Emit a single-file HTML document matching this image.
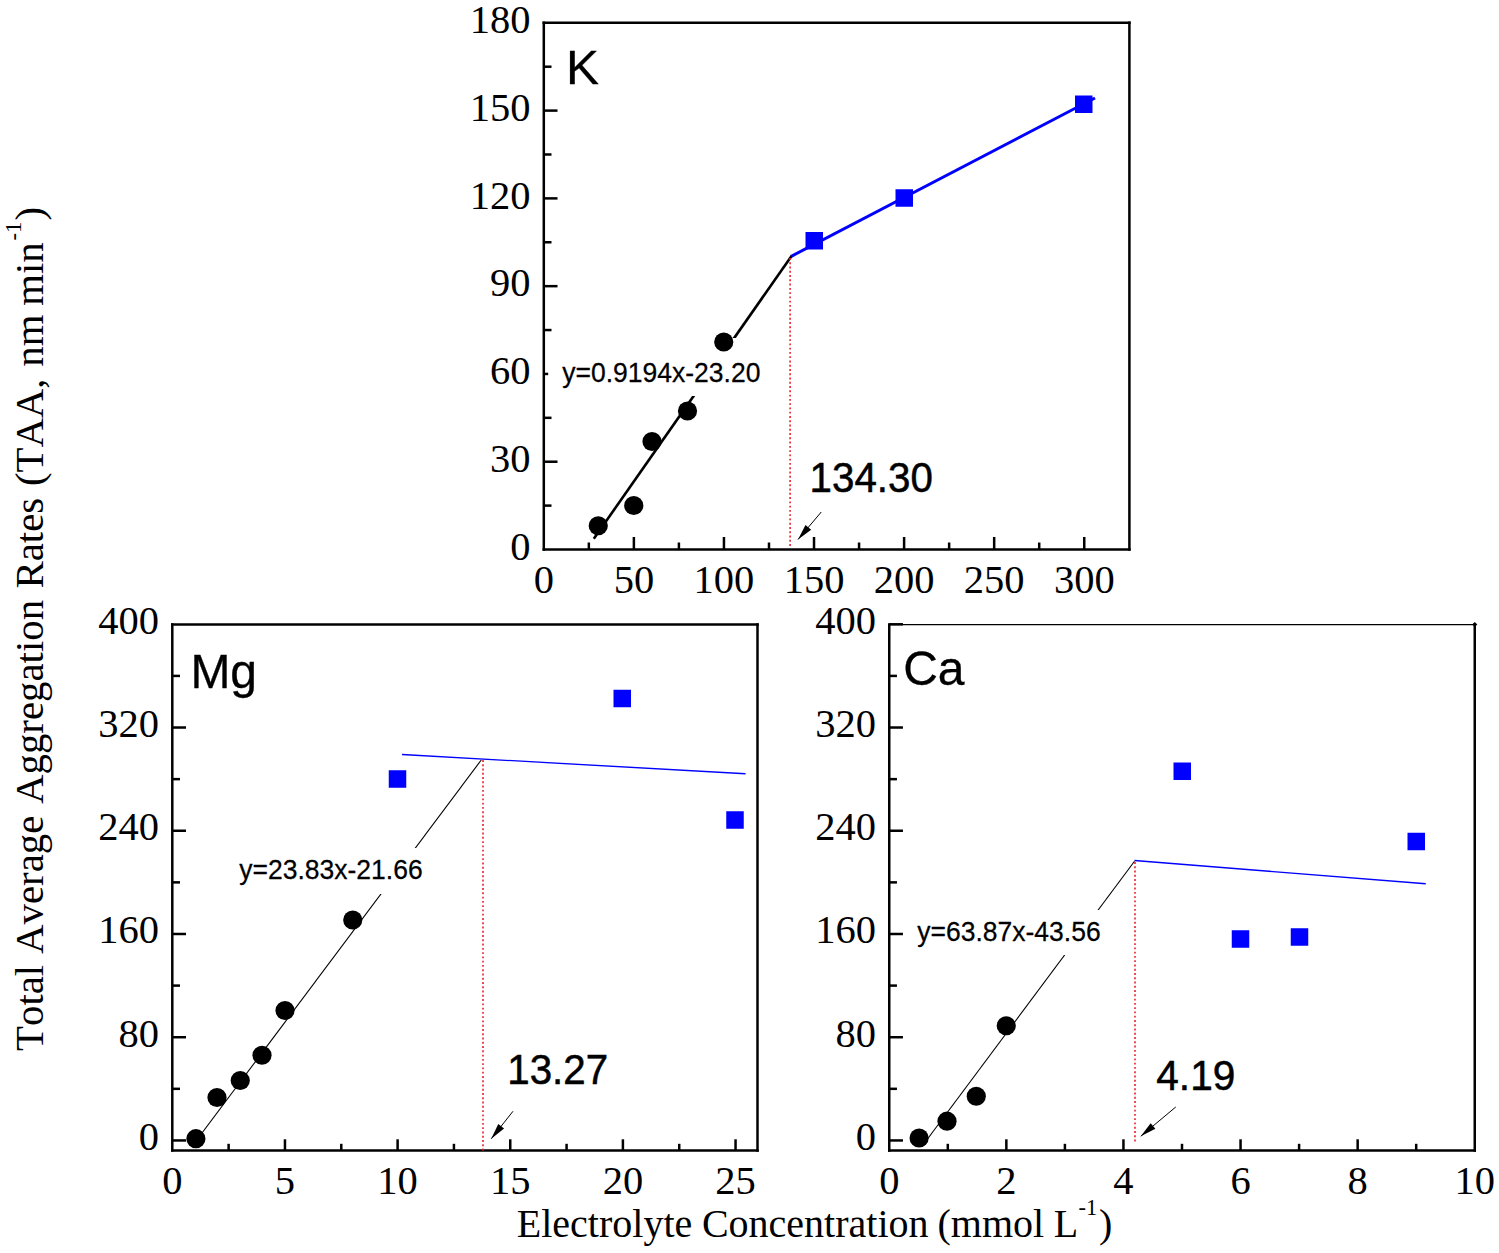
<!DOCTYPE html>
<html><head><meta charset="utf-8"><title>Chart</title>
<style>
html,body{margin:0;padding:0;background:#fff;}
body{width:1499px;height:1253px;overflow:hidden;font-family:"Liberation Sans",sans-serif;}
svg{display:block;}
svg text{font-kerning:none;font-variant-ligatures:none;}
</style></head><body>
<svg width="1499" height="1253" viewBox="0 0 1499 1253">
<rect width="1499" height="1253" fill="#fff"/>
<line x1="543.80" y1="21.55" x2="543.80" y2="550.75" stroke="#000" stroke-width="2.5" />
<line x1="1129.40" y1="21.55" x2="1129.40" y2="550.75" stroke="#000" stroke-width="2.5" />
<line x1="542.55" y1="549.50" x2="1130.65" y2="549.50" stroke="#000" stroke-width="2.5" />
<line x1="542.55" y1="22.80" x2="1130.65" y2="22.80" stroke="#000" stroke-width="2.5" />
<text x="543.80" y="592.90" font-size="40.5" font-family='"Liberation Serif", serif' text-anchor="middle" >0</text>
<line x1="633.88" y1="549.50" x2="633.88" y2="537.00" stroke="#000" stroke-width="2.5" />
<text x="633.88" y="592.90" font-size="40.5" font-family='"Liberation Serif", serif' text-anchor="middle" >50</text>
<line x1="723.95" y1="549.50" x2="723.95" y2="537.00" stroke="#000" stroke-width="2.5" />
<text x="723.95" y="592.90" font-size="40.5" font-family='"Liberation Serif", serif' text-anchor="middle" >100</text>
<line x1="814.02" y1="549.50" x2="814.02" y2="537.00" stroke="#000" stroke-width="2.5" />
<text x="814.02" y="592.90" font-size="40.5" font-family='"Liberation Serif", serif' text-anchor="middle" >150</text>
<line x1="904.10" y1="549.50" x2="904.10" y2="537.00" stroke="#000" stroke-width="2.5" />
<text x="904.10" y="592.90" font-size="40.5" font-family='"Liberation Serif", serif' text-anchor="middle" >200</text>
<line x1="994.17" y1="549.50" x2="994.17" y2="537.00" stroke="#000" stroke-width="2.5" />
<text x="994.17" y="592.90" font-size="40.5" font-family='"Liberation Serif", serif' text-anchor="middle" >250</text>
<line x1="1084.25" y1="549.50" x2="1084.25" y2="537.00" stroke="#000" stroke-width="2.5" />
<text x="1084.25" y="592.90" font-size="40.5" font-family='"Liberation Serif", serif' text-anchor="middle" >300</text>
<line x1="588.84" y1="549.50" x2="588.84" y2="542.50" stroke="#000" stroke-width="2.5" />
<line x1="678.91" y1="549.50" x2="678.91" y2="542.50" stroke="#000" stroke-width="2.5" />
<line x1="768.99" y1="549.50" x2="768.99" y2="542.50" stroke="#000" stroke-width="2.5" />
<line x1="859.06" y1="549.50" x2="859.06" y2="542.50" stroke="#000" stroke-width="2.5" />
<line x1="949.14" y1="549.50" x2="949.14" y2="542.50" stroke="#000" stroke-width="2.5" />
<line x1="1039.21" y1="549.50" x2="1039.21" y2="542.50" stroke="#000" stroke-width="2.5" />
<text x="530.50" y="559.70" font-size="40.5" font-family='"Liberation Serif", serif' text-anchor="end" >0</text>
<line x1="543.80" y1="461.72" x2="557.50" y2="461.72" stroke="#000" stroke-width="2.5" />
<text x="530.50" y="471.92" font-size="40.5" font-family='"Liberation Serif", serif' text-anchor="end" >30</text>
<line x1="543.80" y1="373.94" x2="557.50" y2="373.94" stroke="#000" stroke-width="2.5" />
<text x="530.50" y="384.14" font-size="40.5" font-family='"Liberation Serif", serif' text-anchor="end" >60</text>
<line x1="543.80" y1="286.16" x2="557.50" y2="286.16" stroke="#000" stroke-width="2.5" />
<text x="530.50" y="296.36" font-size="40.5" font-family='"Liberation Serif", serif' text-anchor="end" >90</text>
<line x1="543.80" y1="198.38" x2="557.50" y2="198.38" stroke="#000" stroke-width="2.5" />
<text x="530.50" y="208.58" font-size="40.5" font-family='"Liberation Serif", serif' text-anchor="end" >120</text>
<line x1="543.80" y1="110.60" x2="557.50" y2="110.60" stroke="#000" stroke-width="2.5" />
<text x="530.50" y="120.80" font-size="40.5" font-family='"Liberation Serif", serif' text-anchor="end" >150</text>
<text x="530.50" y="33.02" font-size="40.5" font-family='"Liberation Serif", serif' text-anchor="end" >180</text>
<line x1="543.80" y1="505.61" x2="551.50" y2="505.61" stroke="#000" stroke-width="2.5" />
<line x1="543.80" y1="417.83" x2="551.50" y2="417.83" stroke="#000" stroke-width="2.5" />
<line x1="543.80" y1="330.05" x2="551.50" y2="330.05" stroke="#000" stroke-width="2.5" />
<line x1="543.80" y1="242.27" x2="551.50" y2="242.27" stroke="#000" stroke-width="2.5" />
<line x1="543.80" y1="154.49" x2="551.50" y2="154.49" stroke="#000" stroke-width="2.5" />
<line x1="543.80" y1="66.71" x2="551.50" y2="66.71" stroke="#000" stroke-width="2.5" />
<line x1="593.80" y1="538.75" x2="791.90" y2="255.50" stroke="#000" stroke-width="2.6" />
<line x1="791.20" y1="256.30" x2="1095.00" y2="98.00" stroke="#0000ff" stroke-width="3.0" />
<rect x="548.20" y="338.00" width="221.80" height="58.00" fill="#fff"/>
<line x1="790.10" y1="258.00" x2="790.10" y2="548.00" stroke="#e8202a" stroke-width="1.6" stroke-dasharray="1.9 2.37"/>
<circle cx="598.25" cy="525.75" r="9.6" fill="#000"/>
<circle cx="633.75" cy="505.50" r="9.6" fill="#000"/>
<circle cx="652.00" cy="441.50" r="9.6" fill="#000"/>
<circle cx="687.50" cy="411.00" r="9.6" fill="#000"/>
<circle cx="723.75" cy="342.00" r="9.6" fill="#000"/>
<rect x="805.50" y="232.00" width="17.5" height="17.5" fill="#0000ff"/>
<rect x="895.50" y="189.25" width="17.5" height="17.5" fill="#0000ff"/>
<rect x="1075.00" y="95.50" width="17.5" height="17.5" fill="#0000ff"/>
<text transform="translate(562.30,381.60) scale(1,1.05)" font-size="26.5" font-family='"Liberation Sans", sans-serif' stroke="#000" stroke-width="0.25" stroke-linejoin="round">y=0.9194x-23.20</text>
<text transform="translate(809.60,492.20) scale(1,1.05)" font-size="40.3" font-family='"Liberation Sans", sans-serif' stroke="#000" stroke-width="0.5" stroke-linejoin="round">134.30</text>
<line x1="821.25" y1="512.00" x2="798.00" y2="539.50" stroke="#000" stroke-width="1" />
<polygon points="798.00,539.50 805.50,524.89 811.16,529.67" fill="#000"/>
<text transform="translate(566.00,84.40) scale(1,0.985)" font-size="49.5" font-family='"Liberation Sans", sans-serif' stroke="#000" stroke-width="0.3" stroke-linejoin="round">K</text>
<line x1="172.30" y1="623.15" x2="172.30" y2="1151.85" stroke="#000" stroke-width="2.5" />
<line x1="757.50" y1="623.15" x2="757.50" y2="1151.85" stroke="#000" stroke-width="2.5" />
<line x1="171.05" y1="1150.60" x2="758.75" y2="1150.60" stroke="#000" stroke-width="2.5" />
<line x1="171.05" y1="624.40" x2="758.75" y2="624.40" stroke="#000" stroke-width="2.5" />
<text x="172.30" y="1194.00" font-size="40.5" font-family='"Liberation Serif", serif' text-anchor="middle" >0</text>
<line x1="284.95" y1="1150.60" x2="284.95" y2="1139.30" stroke="#000" stroke-width="2.5" />
<text x="284.95" y="1194.00" font-size="40.5" font-family='"Liberation Serif", serif' text-anchor="middle" >5</text>
<line x1="397.60" y1="1150.60" x2="397.60" y2="1139.30" stroke="#000" stroke-width="2.5" />
<text x="397.60" y="1194.00" font-size="40.5" font-family='"Liberation Serif", serif' text-anchor="middle" >10</text>
<line x1="510.25" y1="1150.60" x2="510.25" y2="1139.30" stroke="#000" stroke-width="2.5" />
<text x="510.25" y="1194.00" font-size="40.5" font-family='"Liberation Serif", serif' text-anchor="middle" >15</text>
<line x1="622.90" y1="1150.60" x2="622.90" y2="1139.30" stroke="#000" stroke-width="2.5" />
<text x="622.90" y="1194.00" font-size="40.5" font-family='"Liberation Serif", serif' text-anchor="middle" >20</text>
<line x1="735.55" y1="1150.60" x2="735.55" y2="1139.30" stroke="#000" stroke-width="2.5" />
<text x="735.55" y="1194.00" font-size="40.5" font-family='"Liberation Serif", serif' text-anchor="middle" >25</text>
<line x1="228.62" y1="1150.60" x2="228.62" y2="1143.80" stroke="#000" stroke-width="2.5" />
<line x1="341.28" y1="1150.60" x2="341.28" y2="1143.80" stroke="#000" stroke-width="2.5" />
<line x1="453.93" y1="1150.60" x2="453.93" y2="1143.80" stroke="#000" stroke-width="2.5" />
<line x1="566.58" y1="1150.60" x2="566.58" y2="1143.80" stroke="#000" stroke-width="2.5" />
<line x1="679.23" y1="1150.60" x2="679.23" y2="1143.80" stroke="#000" stroke-width="2.5" />
<line x1="172.30" y1="1140.45" x2="186.00" y2="1140.45" stroke="#000" stroke-width="2.5" />
<text x="159.00" y="1149.85" font-size="40.5" font-family='"Liberation Serif", serif' text-anchor="end" >0</text>
<line x1="172.30" y1="1037.22" x2="186.00" y2="1037.22" stroke="#000" stroke-width="2.5" />
<text x="159.00" y="1046.62" font-size="40.5" font-family='"Liberation Serif", serif' text-anchor="end" >80</text>
<line x1="172.30" y1="933.99" x2="186.00" y2="933.99" stroke="#000" stroke-width="2.5" />
<text x="159.00" y="943.39" font-size="40.5" font-family='"Liberation Serif", serif' text-anchor="end" >160</text>
<line x1="172.30" y1="830.75" x2="186.00" y2="830.75" stroke="#000" stroke-width="2.5" />
<text x="159.00" y="840.15" font-size="40.5" font-family='"Liberation Serif", serif' text-anchor="end" >240</text>
<line x1="172.30" y1="727.52" x2="186.00" y2="727.52" stroke="#000" stroke-width="2.5" />
<text x="159.00" y="736.92" font-size="40.5" font-family='"Liberation Serif", serif' text-anchor="end" >320</text>
<text x="159.00" y="633.69" font-size="40.5" font-family='"Liberation Serif", serif' text-anchor="end" >400</text>
<line x1="172.30" y1="1088.83" x2="180.00" y2="1088.83" stroke="#000" stroke-width="2.5" />
<line x1="172.30" y1="985.60" x2="180.00" y2="985.60" stroke="#000" stroke-width="2.5" />
<line x1="172.30" y1="882.37" x2="180.00" y2="882.37" stroke="#000" stroke-width="2.5" />
<line x1="172.30" y1="779.14" x2="180.00" y2="779.14" stroke="#000" stroke-width="2.5" />
<line x1="172.30" y1="675.91" x2="180.00" y2="675.91" stroke="#000" stroke-width="2.5" />
<line x1="196.00" y1="1141.00" x2="481.25" y2="760.00" stroke="#000" stroke-width="1.1" />
<line x1="402.00" y1="754.50" x2="745.50" y2="773.75" stroke="#0000ff" stroke-width="1.3" />
<rect x="236.00" y="848.00" width="194.00" height="46.00" fill="#fff"/>
<line x1="483.00" y1="760.00" x2="483.00" y2="1151.00" stroke="#e8202a" stroke-width="1.6" stroke-dasharray="1.9 2.37"/>
<circle cx="195.90" cy="1138.70" r="9.6" fill="#000"/>
<circle cx="217.00" cy="1097.50" r="9.6" fill="#000"/>
<circle cx="240.25" cy="1080.50" r="9.6" fill="#000"/>
<circle cx="262.00" cy="1055.25" r="9.6" fill="#000"/>
<circle cx="285.00" cy="1010.50" r="9.6" fill="#000"/>
<circle cx="352.75" cy="920.00" r="9.6" fill="#000"/>
<rect x="388.75" y="770.25" width="17.5" height="17.5" fill="#0000ff"/>
<rect x="613.50" y="689.75" width="17.5" height="17.5" fill="#0000ff"/>
<rect x="726.25" y="811.25" width="17.5" height="17.5" fill="#0000ff"/>
<text transform="translate(239.30,878.50) scale(1,1.05)" font-size="26.5" font-family='"Liberation Sans", sans-serif' stroke="#000" stroke-width="0.25" stroke-linejoin="round">y=23.83x-21.66</text>
<text transform="translate(507.30,1084.40) scale(1,1.05)" font-size="40.3" font-family='"Liberation Sans", sans-serif' stroke="#000" stroke-width="0.5" stroke-linejoin="round">13.27</text>
<line x1="513.00" y1="1111.25" x2="491.25" y2="1138.75" stroke="#000" stroke-width="1" />
<polygon points="491.25,1138.75 498.27,1123.91 504.08,1128.50" fill="#000"/>
<text transform="translate(190.40,687.80) scale(1,1.02)" font-size="48" font-family='"Liberation Sans", sans-serif' stroke="#000" stroke-width="0.3" stroke-linejoin="round">Mg</text>
<line x1="889.25" y1="623.35" x2="889.25" y2="1151.85" stroke="#000" stroke-width="2.5" />
<line x1="1474.75" y1="623.35" x2="1474.75" y2="1151.85" stroke="#000" stroke-width="2.5" />
<line x1="888.00" y1="1150.60" x2="1476.00" y2="1150.60" stroke="#000" stroke-width="2.5" />
<line x1="888.00" y1="624.60" x2="1476.00" y2="624.60" stroke="#000" stroke-width="1.3" />
<text x="889.25" y="1194.00" font-size="40.5" font-family='"Liberation Serif", serif' text-anchor="middle" >0</text>
<line x1="1006.35" y1="1150.60" x2="1006.35" y2="1139.30" stroke="#000" stroke-width="2.5" />
<text x="1006.35" y="1194.00" font-size="40.5" font-family='"Liberation Serif", serif' text-anchor="middle" >2</text>
<line x1="1123.45" y1="1150.60" x2="1123.45" y2="1139.30" stroke="#000" stroke-width="2.5" />
<text x="1123.45" y="1194.00" font-size="40.5" font-family='"Liberation Serif", serif' text-anchor="middle" >4</text>
<line x1="1240.55" y1="1150.60" x2="1240.55" y2="1139.30" stroke="#000" stroke-width="2.5" />
<text x="1240.55" y="1194.00" font-size="40.5" font-family='"Liberation Serif", serif' text-anchor="middle" >6</text>
<line x1="1357.65" y1="1150.60" x2="1357.65" y2="1139.30" stroke="#000" stroke-width="2.5" />
<text x="1357.65" y="1194.00" font-size="40.5" font-family='"Liberation Serif", serif' text-anchor="middle" >8</text>
<text x="1474.75" y="1194.00" font-size="40.5" font-family='"Liberation Serif", serif' text-anchor="middle" >10</text>
<line x1="947.80" y1="1150.60" x2="947.80" y2="1143.80" stroke="#000" stroke-width="2.5" />
<line x1="1064.90" y1="1150.60" x2="1064.90" y2="1143.80" stroke="#000" stroke-width="2.5" />
<line x1="1182.00" y1="1150.60" x2="1182.00" y2="1143.80" stroke="#000" stroke-width="2.5" />
<line x1="1299.10" y1="1150.60" x2="1299.10" y2="1143.80" stroke="#000" stroke-width="2.5" />
<line x1="1416.20" y1="1150.60" x2="1416.20" y2="1143.80" stroke="#000" stroke-width="2.5" />
<line x1="889.25" y1="1140.45" x2="902.95" y2="1140.45" stroke="#000" stroke-width="2.5" />
<text x="875.95" y="1149.85" font-size="40.5" font-family='"Liberation Serif", serif' text-anchor="end" >0</text>
<line x1="889.25" y1="1037.22" x2="902.95" y2="1037.22" stroke="#000" stroke-width="2.5" />
<text x="875.95" y="1046.62" font-size="40.5" font-family='"Liberation Serif", serif' text-anchor="end" >80</text>
<line x1="889.25" y1="933.99" x2="902.95" y2="933.99" stroke="#000" stroke-width="2.5" />
<text x="875.95" y="943.39" font-size="40.5" font-family='"Liberation Serif", serif' text-anchor="end" >160</text>
<line x1="889.25" y1="830.75" x2="902.95" y2="830.75" stroke="#000" stroke-width="2.5" />
<text x="875.95" y="840.15" font-size="40.5" font-family='"Liberation Serif", serif' text-anchor="end" >240</text>
<line x1="889.25" y1="727.52" x2="902.95" y2="727.52" stroke="#000" stroke-width="2.5" />
<text x="875.95" y="736.92" font-size="40.5" font-family='"Liberation Serif", serif' text-anchor="end" >320</text>
<line x1="889.25" y1="624.29" x2="902.95" y2="624.29" stroke="#000" stroke-width="2.5" />
<text x="875.95" y="633.69" font-size="40.5" font-family='"Liberation Serif", serif' text-anchor="end" >400</text>
<line x1="889.25" y1="1088.83" x2="896.95" y2="1088.83" stroke="#000" stroke-width="2.5" />
<line x1="889.25" y1="985.60" x2="896.95" y2="985.60" stroke="#000" stroke-width="2.5" />
<line x1="889.25" y1="882.37" x2="896.95" y2="882.37" stroke="#000" stroke-width="2.5" />
<line x1="889.25" y1="779.14" x2="896.95" y2="779.14" stroke="#000" stroke-width="2.5" />
<line x1="889.25" y1="675.91" x2="896.95" y2="675.91" stroke="#000" stroke-width="2.5" />
<polygon points="1474.75,622.0 1477.3,624.5 1474.75,627.0 1472.2,624.5" fill="#000"/>
<line x1="926.00" y1="1141.00" x2="1134.50" y2="861.25" stroke="#000" stroke-width="1.1" />
<line x1="1134.50" y1="860.50" x2="1425.75" y2="883.75" stroke="#0000ff" stroke-width="1.3" />
<rect x="912.00" y="910.00" width="198.00" height="45.00" fill="#fff"/>
<line x1="1135.00" y1="862.00" x2="1135.00" y2="1142.00" stroke="#e8202a" stroke-width="1.6" stroke-dasharray="1.9 2.37"/>
<circle cx="919.10" cy="1138.00" r="9.6" fill="#000"/>
<circle cx="947.00" cy="1121.20" r="9.6" fill="#000"/>
<circle cx="976.25" cy="1096.25" r="9.6" fill="#000"/>
<circle cx="1006.25" cy="1025.75" r="9.6" fill="#000"/>
<rect x="1173.50" y="762.50" width="17.5" height="17.5" fill="#0000ff"/>
<rect x="1407.50" y="832.75" width="17.5" height="17.5" fill="#0000ff"/>
<rect x="1231.75" y="930.25" width="17.5" height="17.5" fill="#0000ff"/>
<rect x="1290.75" y="928.25" width="17.5" height="17.5" fill="#0000ff"/>
<text transform="translate(917.30,940.50) scale(1,1.05)" font-size="26.5" font-family='"Liberation Sans", sans-serif' stroke="#000" stroke-width="0.25" stroke-linejoin="round">y=63.87x-43.56</text>
<text transform="translate(1156.30,1089.60) scale(1,1.05)" font-size="40.6" font-family='"Liberation Sans", sans-serif' stroke="#000" stroke-width="0.5" stroke-linejoin="round">4.19</text>
<line x1="1175.75" y1="1107.00" x2="1140.75" y2="1136.25" stroke="#000" stroke-width="1" />
<polygon points="1140.75,1136.25 1150.65,1123.15 1155.40,1128.83" fill="#000"/>
<text transform="translate(903.20,685.10) scale(1,1.02)" font-size="48" font-family='"Liberation Sans", sans-serif' stroke="#000" stroke-width="0.3" stroke-linejoin="round">Ca</text>
<text font-size="40" font-family='"Liberation Serif", serif'><tspan x="516.80" y="1236.70">Electrolyte</tspan><tspan x="701.90" y="1236.70">Concentration</tspan><tspan x="937.50" y="1236.70">(mmol</tspan><tspan x="1053.80" y="1236.70">L</tspan><tspan x="1078.60" y="1214.70" font-size="22.5">-1</tspan><tspan x="1099.00" y="1236.70">)</tspan></text>
<g transform="translate(43,1050.9) rotate(-90)">
<text font-size="40.8" font-family='"Liberation Serif", serif'><tspan x="0.00" y="0.00">Total</tspan><tspan x="97.00" y="0.00">Average</tspan><tspan x="247.00" y="0.00">Aggregation</tspan><tspan x="462.40" y="0.00">Rates</tspan><tspan x="564.80" y="0.00">(TAA,</tspan><tspan x="684.20" y="0.00">nm</tspan><tspan x="745.20" y="0.00">min</tspan><tspan x="810.40" y="-22.00" font-size="22.5">-1</tspan><tspan x="830.30" y="0.00">)</tspan></text>
</g>
</svg>
</body></html>
